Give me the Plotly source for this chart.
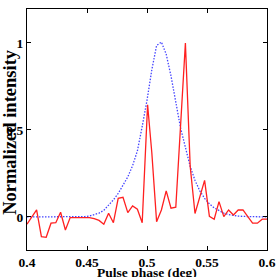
import plotly.graph_objects as go

# Observed (red) profile
phase_obs = [0.400, 0.404, 0.408, 0.412, 0.416, 0.420, 0.424, 0.428, 0.432, 0.436,
             0.440, 0.444, 0.448, 0.452, 0.456, 0.460, 0.464, 0.468, 0.472, 0.476,
             0.480, 0.484, 0.488, 0.492, 0.496, 0.5005, 0.504, 0.508, 0.512, 0.516,
             0.520, 0.524, 0.532, 0.536, 0.540, 0.545, 0.548, 0.552, 0.556, 0.560,
             0.564, 0.568, 0.572, 0.576, 0.580, 0.584, 0.588, 0.592, 0.596, 0.600]
intensity_obs = [-0.042, 0.0, 0.04, -0.113, -0.117, -0.036, -0.033, 0.027, -0.075, -0.004,
                 -0.004, -0.002, -0.004, -0.004, -0.01, -0.02, -0.042, 0.021, -0.033, 0.107,
                 0.113, 0.025, 0.063, 0.044, -0.033, 0.645, 0.37, -0.027, 0.04, 0.15,
                 0.05, 0.056, 1.0, 0.29, 0.02, 0.145, 0.21, 0.004, -0.013, 0.088,
                 0.002, 0.04, 0.011, 0.04, 0.04, 0.002, -0.036, -0.036, -0.013, -0.013]

# Model (blue dotted) profile
phase_model = [0.400, 0.404, 0.408, 0.412, 0.416, 0.420, 0.424, 0.428, 0.432, 0.436,
               0.440, 0.444, 0.448, 0.452, 0.456, 0.460, 0.464, 0.468, 0.472, 0.476,
               0.480, 0.484, 0.488, 0.492, 0.496, 0.500, 0.504, 0.508, 0.512, 0.516,
               0.520, 0.524, 0.528, 0.532, 0.536, 0.540, 0.544, 0.548, 0.552, 0.556,
               0.560, 0.564, 0.568, 0.572, 0.576, 0.580, 0.584, 0.588, 0.592, 0.596,
               0.600]
intensity_model = [0.0, 0.0, 0.0, 0.0, 0.0, 0.0, 0.0, 0.0, 0.0, 0.0,
                   0.0, 0.001, 0.002, 0.005, 0.012, 0.022, 0.038, 0.065, 0.098, 0.135,
                   0.18, 0.23, 0.295, 0.38, 0.52, 0.67, 0.845, 0.985, 1.005, 0.935,
                   0.81, 0.67, 0.51, 0.40, 0.29, 0.21, 0.15, 0.107, 0.075, 0.052,
                   0.035, 0.022, 0.014, 0.008, 0.005, 0.003, 0.002, 0.001, 0.0, 0.0,
                   0.0]

x_ticks = [0.4, 0.45, 0.5, 0.55, 0.6]
x_tick_labels = ["0.4", "0.45", "0.5", "0.55", "0.6"]
y_ticks = [0, 0.5, 1]
y_tick_labels = ["0", "0.5", "1"]

font_family = "Liberation Serif, Times New Roman, serif"

fig = go.Figure()
fig.add_trace(go.Scatter(x=phase_model, y=intensity_model, mode="lines",
                         line=dict(color="#4444ff", width=1.3, dash="1.5px,1.5px"),
                         showlegend=False))
fig.add_trace(go.Scatter(x=phase_obs, y=intensity_obs, mode="lines",
                         line=dict(color="#ff2020", width=1.3),
                         showlegend=False))

axis_common = dict(showline=True, linecolor="black", linewidth=1.2, mirror="ticks",
                   ticks="inside", ticklen=4, tickcolor="black", showgrid=False,
                   zeroline=False, automargin=False,
                   tickfont=dict(family=font_family, size=13.5, color="black"))

fig.update_xaxes(range=[0.4, 0.6], tickvals=x_ticks,
                 ticktext=["<b>%s</b>" % t for t in x_tick_labels], **axis_common)
fig.update_yaxes(range=[-0.19, 1.195], tickvals=y_ticks,
                 ticktext=["<b>%s</b>" % t for t in y_tick_labels], **axis_common)

fig.add_annotation(text="<b>Normalized intensity</b>", xref="paper", yref="paper",
                   x=-0.071, y=0.49, xanchor="center", yanchor="middle",
                   textangle=-90, showarrow=False,
                   font=dict(family=font_family, size=18.5, color="black"))
fig.add_annotation(text="<b>Pulse phase (deg)</b>", xref="paper", yref="paper",
                   x=0.5, y=-0.095, xanchor="center", yanchor="middle",
                   showarrow=False,
                   font=dict(family=font_family, size=13.5, color="black"))

fig.update_layout(width=277, height=277, autosize=False,
                  margin=dict(l=26.5, r=10, t=9, b=27, pad=0, autoexpand=False),
                  paper_bgcolor="white", plot_bgcolor="white")

fig.write_html("out.html", config={"displayModeBar": False},
               post_script="document.body.style.margin='0';"
                           "document.body.style.overflow='hidden';")
